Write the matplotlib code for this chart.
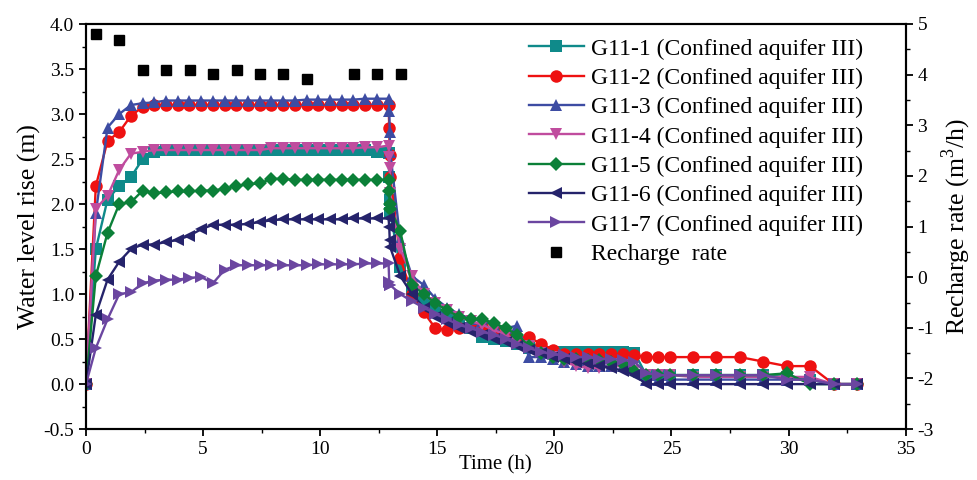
import matplotlib
matplotlib.use("Agg")
import matplotlib.pyplot as plt
from matplotlib.ticker import MultipleLocator

plt.rcParams['font.family'] = ['Liberation Serif', 'DejaVu Serif']
plt.rcParams['mathtext.fontset'] = 'custom'
plt.rcParams['mathtext.rm'] = 'Liberation Serif'
plt.rcParams['axes.unicode_minus'] = False

# time of each reading (h); several readings at ~13 h when recharge stopped
time_h = [0, 0.42, 0.92, 1.42, 1.92, 2.42, 2.92, 3.42, 3.92, 4.42, 4.92, 5.42, 5.92,
          6.42, 6.92, 7.42, 7.92, 8.42, 8.92, 9.42, 9.92, 10.42, 10.92, 11.42, 11.92,
          12.42, 12.92, 12.95, 12.97, 12.99,
          13.42, 13.92, 14.42, 14.92, 15.42, 15.92, 16.42, 16.92, 17.42, 17.92, 18.42,
          18.92, 19.42, 19.92, 20.42, 20.92, 21.42, 21.92, 22.42, 22.92, 23.42, 23.92,
          24.42, 24.92,
          25.92, 26.92, 27.92, 28.92, 29.92, 30.92, 31.92, 32.92]

g11_1 = [0, 1.5, 2.05, 2.2, 2.3, 2.5, 2.58, 2.6, 2.6, 2.6, 2.6, 2.6, 2.6, 2.6, 2.6, 2.6,
         2.6, 2.6, 2.6, 2.6, 2.6, 2.6, 2.6, 2.6, 2.6, 2.58, 2.57, 2.3, 2.05, 1.9,
         1.3, 1.05, 0.95, 0.82, 0.75, 0.7, 0.62, 0.52, 0.5, 0.48, 0.45, 0.4, 0.38, 0.36,
         0.36, 0.36, 0.36, 0.36, 0.36, 0.36, 0.35, 0.1, 0.1, 0.1,
         0.1, 0.1, 0.1, 0.1, 0.08, 0.05, 0, 0]
g11_2 = [0, 2.2, 2.7, 2.8, 2.98, 3.08, 3.1, 3.1, 3.1, 3.1, 3.1, 3.1, 3.1, 3.1, 3.1, 3.1,
         3.1, 3.1, 3.1, 3.1, 3.1, 3.1, 3.1, 3.1, 3.1, 3.1, 3.1, 2.85, 2.55, 2.3,
         1.4, 1.0, 0.8, 0.62, 0.6, 0.62, 0.65, 0.65, 0.6, 0.55, 0.52, 0.52, 0.45, 0.38,
         0.33, 0.33, 0.33, 0.33, 0.33, 0.33, 0.32, 0.3, 0.3, 0.3,
         0.3, 0.3, 0.3, 0.25, 0.2, 0.2, 0, 0]
g11_3 = [0, 1.9, 2.85, 3.0, 3.1, 3.12, 3.13, 3.15, 3.15, 3.15, 3.15, 3.15, 3.15, 3.15,
         3.15, 3.15, 3.15, 3.15, 3.15, 3.16, 3.16, 3.16, 3.16, 3.16, 3.17, 3.17, 3.17,
         3.03, 2.8, 2.58,
         1.6, 1.2, 1.1, 0.95, 0.85, 0.78, 0.72, 0.7, 0.66, 0.62, 0.65, 0.3, 0.3, 0.28,
         0.25, 0.22, 0.2, 0.2, 0.2, 0.2, 0.18, 0.05, 0.05, 0.05,
         0.05, 0.05, 0.05, 0.05, 0.05, 0.05, 0, 0]
g11_4 = [0, 1.95, 2.09, 2.38, 2.56, 2.58, 2.6, 2.6, 2.6, 2.6, 2.6, 2.6, 2.6, 2.6, 2.6,
         2.6, 2.62, 2.62, 2.62, 2.62, 2.62, 2.62, 2.62, 2.62, 2.63, 2.63, 2.65,
         2.52, 2.4, 2.12,
         1.5, 1.2, 1.0, 0.9, 0.82, 0.75, 0.7, 0.66, 0.6, 0.55, 0.48, 0.42, 0.35, 0.3,
         0.25, 0.2, 0.18, 0.18, 0.2, 0.2, 0.15, 0.1, 0.1, 0.1,
         0.08, 0.08, 0.08, 0.08, 0.08, 0.08, 0, 0]
g11_5 = [0, 1.2, 1.68, 2.0, 2.02, 2.15, 2.12, 2.13, 2.14, 2.14, 2.15, 2.15, 2.17, 2.2,
         2.22, 2.23, 2.28, 2.28, 2.27, 2.27, 2.27, 2.27, 2.27, 2.27, 2.27, 2.27, 2.27,
         2.15, 2.0, 1.95,
         1.7, 1.1, 1.0, 0.9, 0.82, 0.75, 0.72, 0.72, 0.68, 0.62, 0.55, 0.42, 0.35, 0.3,
         0.28, 0.28, 0.27, 0.27, 0.25, 0.22, 0.15, 0.1, 0.1, 0.1,
         0.1, 0.1, 0.1, 0.1, 0.12, 0, 0, 0]
g11_6 = [0, 0.77, 1.16, 1.36, 1.5, 1.55, 1.55, 1.58, 1.6, 1.65, 1.72, 1.77, 1.77, 1.77,
         1.78, 1.8, 1.82, 1.83, 1.83, 1.83, 1.83, 1.83, 1.83, 1.84, 1.84, 1.84, 1.84,
         1.74, 1.6, 1.52,
         1.2, 1.0, 0.85, 0.75, 0.68, 0.62, 0.58, 0.55, 0.5, 0.47, 0.42, 0.38, 0.35, 0.3,
         0.28, 0.25, 0.22, 0.2, 0.18, 0.15, 0.1, 0, 0, 0,
         0, 0, 0, 0, 0, 0, 0, 0]
g11_7 = [0, 0.4, 0.72, 1.0, 1.02, 1.12, 1.15, 1.16, 1.16, 1.18, 1.19, 1.12, 1.27, 1.32,
         1.32, 1.32, 1.32, 1.32, 1.32, 1.32, 1.33, 1.33, 1.33, 1.33, 1.34, 1.34, 1.34,
         1.13, 1.1, 1.1,
         1.0, 0.92, 0.85, 0.78, 0.72, 0.66, 0.62, 0.58, 0.55, 0.5, 0.45, 0.4, 0.36, 0.33,
         0.32, 0.3, 0.3, 0.28, 0.28, 0.27, 0.25, 0.12, 0.1, 0.1,
         0.1, 0.1, 0.1, 0.1, 0.05, 0.05, 0, 0]

rate_time = [0.43, 1.43, 2.43, 3.43, 4.43, 5.43, 6.43, 7.43, 8.43, 9.43, 11.43, 12.43, 13.43]
rate = [4.8, 4.68, 4.1, 4.1, 4.1, 4.02, 4.1, 4.02, 4.02, 3.92, 4.02, 4.02, 4.02]

series = [
    ('G11-1 (Confined aquifer III)', g11_1, '#0f8a8a', 's'),
    ('G11-2 (Confined aquifer III)', g11_2, '#ee1111', 'o'),
    ('G11-3 (Confined aquifer III)', g11_3, '#3d4ca3', '^'),
    ('G11-4 (Confined aquifer III)', g11_4, '#c04c9e', 'v'),
    ('G11-5 (Confined aquifer III)', g11_5, '#0b8038', 'D'),
    ('G11-6 (Confined aquifer III)', g11_6, '#25236b', '<'),
    ('G11-7 (Confined aquifer III)', g11_7, '#6b46a0', '>'),
]

fig = plt.figure(figsize=(9.77, 4.8), dpi=100)
ax = fig.add_axes([0.088, 0.106, 0.839, 0.844])
ax2 = ax.twinx()

handles = []
for label, vals, col, mk in series:
    ms = 7.5 if mk == 'D' else 9
    h, = ax.plot(time_h, vals, color=col, marker=mk, markersize=ms, lw=1.7,
                 markeredgewidth=0, label=label)
    handles.append(h)

h2, = ax2.plot(rate_time, rate, ls='none', marker='s', color='black', markersize=7.5,
               label='Recharge  rate')
handles.append(h2)

ax.set_xlim(0, 35)
ax.set_ylim(-0.5, 4.0)
ax2.set_ylim(-3, 5)
ax.xaxis.set_major_locator(MultipleLocator(5))
ax.xaxis.set_minor_locator(MultipleLocator(2.5))
ax.yaxis.set_major_locator(MultipleLocator(0.5))
ax.yaxis.set_minor_locator(MultipleLocator(0.25))
ax2.yaxis.set_major_locator(MultipleLocator(1))
ax2.yaxis.set_minor_locator(MultipleLocator(0.5))
ax.yaxis.set_major_formatter(plt.FormatStrFormatter('%.1f'))

for a in (ax, ax2):
    a.tick_params(which='major', direction='out', length=5, width=1.3, labelsize=14)
    a.tick_params(which='minor', direction='out', length=3, width=1.0)
    for s in a.spines.values():
        s.set_linewidth(1.5)

ax.set_xlabel('Time (h)', fontsize=15, labelpad=-2)
ax.set_ylabel('Water level rise (m)', fontsize=18.5, labelpad=2)
ax2.set_ylabel('Recharge rate (m$^3$/h)', fontsize=18.5, labelpad=4)

ax2.legend(handles=handles, loc='upper right', frameon=False, fontsize=17,
           handlelength=2.3, handletextpad=0.3, labelspacing=0.33,
           borderaxespad=0.2, bbox_to_anchor=(0.965, 1.0))

fig.savefig('out.png', dpi=100)
